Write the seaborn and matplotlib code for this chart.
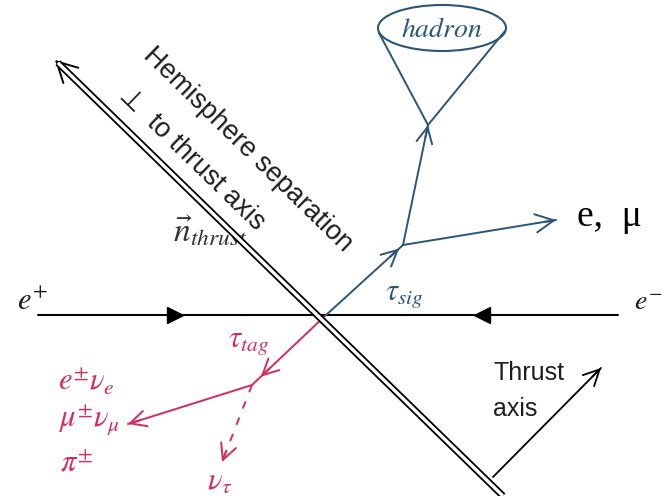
import numpy as np
import seaborn as sns
import matplotlib.pyplot as plt
from matplotlib.patches import Ellipse

# ---- diagram geometry (pixel coordinates, y down) ----
beam_x = [38, 618]
beam_y = [315, 315]
beam_arrow_x = [175, 482]          # filled triangles on the beam line
plane_x = [55, 503]                # hemisphere separation plane, tip first
plane_y = [60, 496]
vertex = (325, 316)

sig_x = [325, 403]                 # tau_sig track
sig_y = [316, 245]
lep_x = [403, 556]                 # e, mu from tau_sig
lep_y = [245, 220]
had_x = [403, 428]                 # hadron track
had_y = [245, 125]
cone_x = [379, 428, 505]
cone_y = [33, 125, 31]
hadron_ellipse = (442, 28, 128, 46)

tag_x = [325, 252]                 # tau_tag track
tag_y = [316, 385]
vis_x = [252, 128]                 # visible decay products
vis_y = [385, 424]
nu_x = [252, 222]                  # neutrino (dashed)
nu_y = [385, 462]

thrust_x = [493, 601]
thrust_y = [477, 368]

BLUE = "#2b5676"
RED = "#d62b5c"
INK = "#1e1e1e"

sns.set_style("white")
plt.rcParams["mathtext.fontset"] = "stix"
sans = ["Liberation Sans", "DejaVu Sans"]

fig = plt.figure(figsize=(6.65, 4.96), dpi=100)
ax = fig.add_axes([0, 0, 1, 1])
ax.set_xlim(0, 665)
ax.set_ylim(496, 0)
ax.axis("off")


def seg(xs, ys, color, lw=1.4, ls="-", z=2):
    sns.lineplot(x=xs, y=ys, sort=False, color=color, lw=lw, ls=ls, ax=ax,
                 zorder=z, estimator=None)


def head(xs, ys, color, frac=1.0, lw=1.4, size=19):
    # open chevron arrow head at fraction frac along the segment
    x0, y0 = xs[0], ys[0]
    x1 = xs[0] + (xs[1] - xs[0]) * frac
    y1 = ys[0] + (ys[1] - ys[0]) * frac
    d = np.hypot(x1 - x0, y1 - y0)
    bx = x1 - (x1 - x0) / d * 12
    by = y1 - (y1 - y0) / d * 12
    ax.annotate("", xy=(x1, y1), xytext=(bx, by),
                arrowprops=dict(arrowstyle="->,head_length=0.6,head_width=0.3",
                                color=color, lw=lw, shrinkA=0, shrinkB=0,
                                mutation_scale=size), zorder=4)


# beam line
seg(beam_x, beam_y, "black", lw=1.5)
ax.plot(beam_arrow_x[0], beam_y[0], marker=">", ms=11, color="black", zorder=3)
ax.plot(beam_arrow_x[1], beam_y[0], marker="<", ms=11, color="black", zorder=3)

# hemisphere plane (double line) with open arrow at the top-left
u = np.array([plane_x[1] - plane_x[0], plane_y[1] - plane_y[0]], float)
L = np.hypot(*u)
u /= L
nrm = np.array([u[1], -u[0]])
tip = np.array([plane_x[0], plane_y[0]], float)
ax.annotate("", xy=tuple(tip), xytext=tuple(tip + 25 * u),
            arrowprops=dict(arrowstyle="->,head_length=0.6,head_width=0.32",
                            color="black", lw=1.4, shrinkA=0, shrinkB=0,
                            mutation_scale=24), zorder=5)
start = tip + 4 * u
ax.plot([start[0], plane_x[1]], [start[1], plane_y[1]], color="black", lw=5.0,
        solid_capstyle="butt", zorder=6)
ax.plot([start[0], plane_x[1]], [start[1], plane_y[1]], color="white", lw=2.4,
        solid_capstyle="butt", zorder=7)

ang = -np.degrees(np.arctan2(u[1], u[0]))
p1 = tip + 201 * u + 70 * nrm
p2 = tip + 167 * u + 24 * nrm
ax.text(p1[0], p1[1], "Hemisphere separation", rotation=ang, rotation_mode="anchor",
        ha="center", va="center", fontsize=19.5, family=sans, color=INK)
ax.text(p2[0], p2[1], "\u22a5  to thrust axis", rotation=ang, rotation_mode="anchor",
        ha="center", va="center", fontsize=19.5, family=sans, color=INK)
ax.text(173, 242, r"$\vec{n}_{thrust}$", fontsize=24, color="#333333",
        ha="left", va="baseline")

# signal side (blue)
seg(sig_x, sig_y, BLUE)
head(sig_x, sig_y, BLUE, frac=0.95)
seg(lep_x, lep_y, BLUE)
head(lep_x, lep_y, BLUE, size=22)
seg(had_x, had_y, BLUE)
head(had_x, had_y, BLUE)
seg(cone_x, cone_y, BLUE)
ell = Ellipse(hadron_ellipse[:2], hadron_ellipse[2], hadron_ellipse[3],
              fill=False, ec=BLUE, lw=1.5, zorder=3)
ax.add_patch(ell)
ax.text(442, 29, r"$hadron$", fontsize=20, color=BLUE, ha="center", va="center")
ax.text(385, 300, r"$\tau_{sig}$", fontsize=22, color=BLUE, ha="left", va="baseline")
ax.text(577, 226, "e,  \u03bc", fontsize=27, family=["Liberation Serif"],
        color="black", ha="left", va="baseline")

# tag side (red)
seg(tag_x, tag_y, RED)
head(tag_x, tag_y, RED, frac=0.88)
seg(vis_x, vis_y, RED)
head(vis_x, vis_y, RED)
seg(nu_x, nu_y, RED, ls=(0, (4, 5)))
head(nu_x, nu_y, RED)
ax.text(228, 347, r"$\tau_{tag}$", fontsize=22, color=RED, ha="left", va="baseline")
ax.text(58, 391, r"$e^{\pm}\nu_e$", fontsize=22, color=RED, ha="left", va="baseline")
ax.text(58, 428, r"$\mu^{\pm}\nu_\mu$", fontsize=22, color=RED, ha="left", va="baseline")
ax.text(60, 472, r"$\pi^{\pm}$", fontsize=22, color=RED, ha="left", va="baseline")
ax.text(207, 490, r"$\nu_\tau$", fontsize=22, color=RED, ha="left", va="baseline")

# beam labels
ax.text(17, 310, r"$e^{+}$", fontsize=22, color=INK, ha="left", va="baseline")
ax.text(662, 310, r"$e^{-}$", fontsize=20, color=INK, ha="right", va="baseline")

# thrust axis
seg(thrust_x, thrust_y, "black", lw=1.3)
head(thrust_x, thrust_y, "black", lw=1.3)
ax.text(493, 380, "Thrust", fontsize=18, family=sans, color=INK, ha="left", va="baseline")
ax.text(493, 416, "axis", fontsize=18, family=sans, color=INK, ha="left", va="baseline")

fig.savefig("out.png", dpi=100)
